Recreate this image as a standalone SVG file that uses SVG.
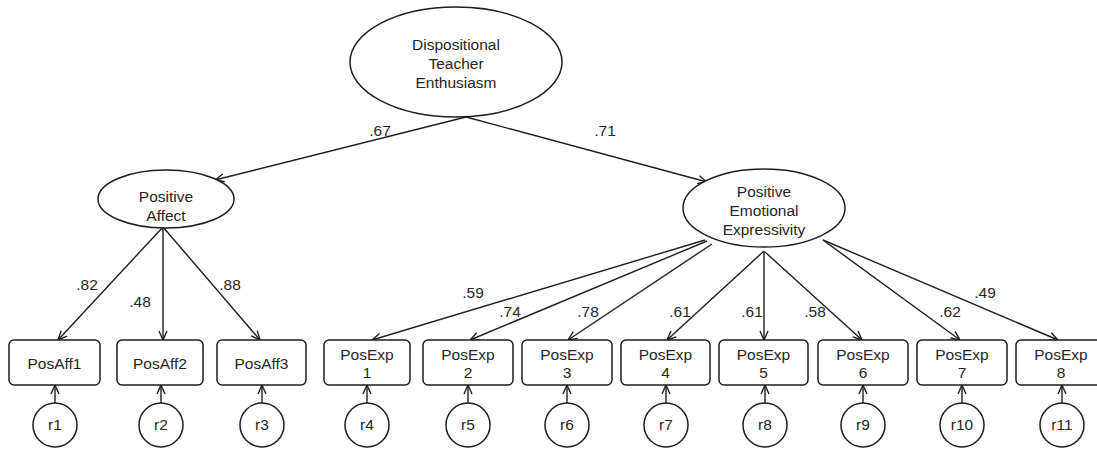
<svg xmlns="http://www.w3.org/2000/svg" width="1097" height="450" viewBox="0 0 1097 450">
<style>
.shape{fill:#fff;stroke:#1e1e1e;stroke-width:1.5}
.t{font-family:"Liberation Sans",Arial,sans-serif;font-size:15.5px;fill:#262626;text-anchor:middle}
.lbl{font-family:"Liberation Sans",Arial,sans-serif;font-size:15.5px;fill:#262626;text-anchor:middle}
.c{stroke:#1e1e1e;stroke-width:1.4;fill:none;marker-end:url(#ah)}
</style>
<defs>
<marker id="ah" viewBox="0 0 10 10" refX="10" refY="5" markerWidth="10" markerHeight="10" markerUnits="userSpaceOnUse" orient="auto">
<path d="M1,1 L10,5 L1,9" fill="none" stroke="#1e1e1e" stroke-width="1.4"/>
</marker>
</defs>
<rect width="1097" height="450" fill="#fff"/>
<g id="connectors">
<line class="c" x1="466" y1="117" x2="215" y2="180"/>
<line class="c" x1="466" y1="117" x2="707" y2="182"/>
<line class="c" x1="163" y1="227" x2="58" y2="340"/>
<line class="c" x1="163" y1="227" x2="163" y2="340"/>
<line class="c" x1="163" y1="227" x2="260" y2="340"/>
<line class="c" x1="705" y1="240" x2="372" y2="340"/>
<line class="c" x1="707" y1="241" x2="470" y2="340"/>
<line class="c" x1="712" y1="244" x2="568" y2="340"/>
<line class="c" x1="764" y1="251" x2="667" y2="340"/>
<line class="c" x1="764" y1="251" x2="764" y2="340"/>
<line class="c" x1="765" y1="252" x2="862" y2="340"/>
<line class="c" x1="823" y1="240" x2="960" y2="340"/>
<line class="c" x1="823" y1="240" x2="1058" y2="340"/>
<line class="c" x1="55" y1="403" x2="55" y2="385"/>
<line class="c" x1="161" y1="403" x2="161" y2="385"/>
<line class="c" x1="262" y1="403" x2="262" y2="385"/>
<line class="c" x1="367" y1="403" x2="367" y2="385"/>
<line class="c" x1="468" y1="403" x2="468" y2="385"/>
<line class="c" x1="567" y1="403" x2="567" y2="385"/>
<line class="c" x1="666" y1="403" x2="666" y2="385"/>
<line class="c" x1="765" y1="403" x2="765" y2="385"/>
<line class="c" x1="863" y1="403" x2="863" y2="385"/>
<line class="c" x1="962" y1="403" x2="962" y2="385"/>
<line class="c" x1="1062" y1="403" x2="1062" y2="385"/>
</g>
<g id="labels">
<text class="lbl" x="380" y="136">.67</text>
<text class="lbl" x="605" y="136">.71</text>
<text class="lbl" x="87" y="290">.82</text>
<text class="lbl" x="140" y="307">.48</text>
<text class="lbl" x="230" y="290">.88</text>
<text class="lbl" x="473" y="298">.59</text>
<text class="lbl" x="510" y="317">.74</text>
<text class="lbl" x="588" y="317">.78</text>
<text class="lbl" x="680" y="317">.61</text>
<text class="lbl" x="752" y="317">.61</text>
<text class="lbl" x="815" y="317">.58</text>
<text class="lbl" x="950" y="317">.62</text>
<text class="lbl" x="985" y="298">.49</text>
</g>
<g id="dte">
<ellipse class="shape" cx="456" cy="62" rx="106" ry="55"/>
<text class="t" x="456" y="50">Dispositional</text>
<text class="t" x="456" y="69">Teacher</text>
<text class="t" x="456" y="88">Enthusiasm</text>
</g>
<g id="pa">
<ellipse class="shape" cx="166" cy="199" rx="68" ry="29"/>
<text class="t" x="166" y="202">Positive</text>
<text class="t" x="166" y="221">Affect</text>
</g>
<g id="pee">
<ellipse class="shape" cx="764" cy="208" rx="81" ry="39"/>
<text class="t" x="764" y="197">Positive</text>
<text class="t" x="764" y="216">Emotional</text>
<text class="t" x="764" y="235">Expressivity</text>
</g>
<g id="posaff1"><rect class="shape" x="9" y="340" width="91" height="45" rx="5"/><text class="t" x="54.5" y="369">PosAff1</text></g>
<g id="posaff2"><rect class="shape" x="117" y="340" width="86" height="45" rx="5"/><text class="t" x="160" y="369">PosAff2</text></g>
<g id="posaff3"><rect class="shape" x="217" y="340" width="89" height="45" rx="5"/><text class="t" x="261.5" y="369">PosAff3</text></g>
<g id="posexp1"><rect class="shape" x="324" y="340" width="86" height="45" rx="5"/><text class="t" x="367" y="360">PosExp</text><text class="t" x="367" y="378">1</text></g>
<g id="posexp2"><rect class="shape" x="423" y="340" width="90" height="45" rx="5"/><text class="t" x="468" y="360">PosExp</text><text class="t" x="468" y="378">2</text></g>
<g id="posexp3"><rect class="shape" x="522" y="340" width="90" height="45" rx="5"/><text class="t" x="567" y="360">PosExp</text><text class="t" x="567" y="378">3</text></g>
<g id="posexp4"><rect class="shape" x="621" y="340" width="89" height="45" rx="5"/><text class="t" x="665.5" y="360">PosExp</text><text class="t" x="665.5" y="378">4</text></g>
<g id="posexp5"><rect class="shape" x="719" y="340" width="89" height="45" rx="5"/><text class="t" x="763.5" y="360">PosExp</text><text class="t" x="763.5" y="378">5</text></g>
<g id="posexp6"><rect class="shape" x="818" y="340" width="90" height="45" rx="5"/><text class="t" x="863" y="360">PosExp</text><text class="t" x="863" y="378">6</text></g>
<g id="posexp7"><rect class="shape" x="917" y="340" width="90" height="45" rx="5"/><text class="t" x="962" y="360">PosExp</text><text class="t" x="962" y="378">7</text></g>
<g id="posexp8"><rect class="shape" x="1016" y="340" width="90" height="45" rx="5"/><text class="t" x="1061" y="360">PosExp</text><text class="t" x="1061" y="378">8</text></g>
<g id="r1"><circle class="shape" cx="55" cy="425" r="22"/><text class="t" x="55" y="430">r1</text></g>
<g id="r2"><circle class="shape" cx="161" cy="425" r="22"/><text class="t" x="161" y="430">r2</text></g>
<g id="r3"><circle class="shape" cx="262" cy="425" r="22"/><text class="t" x="262" y="430">r3</text></g>
<g id="r4"><circle class="shape" cx="367" cy="425" r="22"/><text class="t" x="367" y="430">r4</text></g>
<g id="r5"><circle class="shape" cx="468" cy="425" r="22"/><text class="t" x="468" y="430">r5</text></g>
<g id="r6"><circle class="shape" cx="567" cy="425" r="22"/><text class="t" x="567" y="430">r6</text></g>
<g id="r7"><circle class="shape" cx="666" cy="425" r="22"/><text class="t" x="666" y="430">r7</text></g>
<g id="r8"><circle class="shape" cx="765" cy="425" r="22"/><text class="t" x="765" y="430">r8</text></g>
<g id="r9"><circle class="shape" cx="863" cy="425" r="22"/><text class="t" x="863" y="430">r9</text></g>
<g id="r10"><circle class="shape" cx="962" cy="425" r="22"/><text class="t" x="962" y="430">r10</text></g>
<g id="r11"><circle class="shape" cx="1062" cy="425" r="22"/><text class="t" x="1062" y="430">r11</text></g>
</svg>
